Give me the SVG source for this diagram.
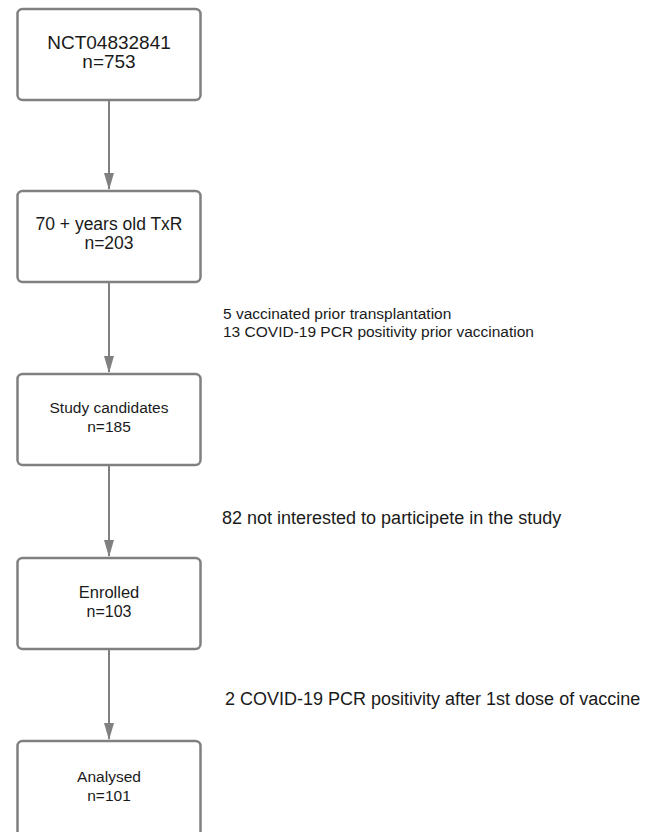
<svg xmlns="http://www.w3.org/2000/svg" width="650" height="832" viewBox="0 0 650 832">
<defs>
<style>
.box{fill:#fff;stroke:#808080;stroke-width:2.5}
.t{font-family:"Liberation Sans",Arial,sans-serif;fill:#1a1a1a;text-anchor:middle}
.n{font-family:"Liberation Sans",Arial,sans-serif;fill:#1a1a1a}
.c{stroke:#808080;stroke-width:2;fill:none}
</style>
<marker id="ah" viewBox="0 0 17 10" refX="16" refY="5" markerWidth="17" markerHeight="10" markerUnits="userSpaceOnUse" orient="auto">
<path d="M0,0 L17,5 L0,10 Z" fill="#808080"/>
</marker>
</defs>
<rect width="650" height="832" fill="#fff"/>
<g id="connectors">
<line class="c" x1="109" y1="100" x2="109" y2="189" marker-end="url(#ah)"/>
<line class="c" x1="109" y1="282" x2="109" y2="372" marker-end="url(#ah)"/>
<line class="c" x1="109" y1="465" x2="109" y2="556" marker-end="url(#ah)"/>
<line class="c" x1="109" y1="649" x2="109" y2="739" marker-end="url(#ah)"/>
</g>
<g id="node1">
<rect class="box" x="17.5" y="9" width="183" height="91" rx="5"/>
<text class="t" x="109" y="49" font-size="19">NCT04832841</text>
<text class="t" x="109" y="68" font-size="19">n=753</text>
</g>
<g id="node2">
<rect class="box" x="17.5" y="191" width="183" height="91" rx="5"/>
<text class="t" x="109" y="230" font-size="17.5">70 + years old TxR</text>
<text class="t" x="109" y="249" font-size="17.5">n=203</text>
</g>
<g id="node3">
<rect class="box" x="17.5" y="374" width="183" height="91" rx="5"/>
<text class="t" x="109" y="413" font-size="15.5">Study candidates</text>
<text class="t" x="109" y="432" font-size="15.5">n=185</text>
</g>
<g id="node4">
<rect class="box" x="17.5" y="558" width="183" height="91" rx="5"/>
<text class="t" x="109" y="598" font-size="16.5">Enrolled</text>
<text class="t" x="109" y="617" font-size="16">n=103</text>
</g>
<g id="node5">
<rect class="box" x="17.5" y="741" width="183" height="95" rx="5"/>
<text class="t" x="109" y="782" font-size="15.5">Analysed</text>
<text class="t" x="109" y="801" font-size="15.5">n=101</text>
</g>
<g id="notes">
<text class="n" x="223" y="319" font-size="15.5">5 vaccinated prior transplantation</text>
<text class="n" x="223" y="337" font-size="15.5">13 COVID-19 PCR positivity prior vaccination</text>
<text class="n" x="222" y="524" font-size="18">82 not interested to participete in the study</text>
<text class="n" x="225" y="705" font-size="18">2 COVID-19 PCR positivity after 1st dose of vaccine</text>
</g>
</svg>
